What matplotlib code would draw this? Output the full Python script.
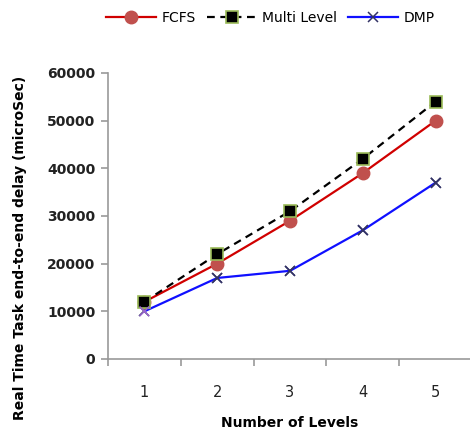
import numpy as np
import matplotlib.pyplot as plt

levels = [1, 2, 3, 4, 5]
fcfs = [12000, 20000, 29000, 39000, 50000]
multi_level = [12000, 22000, 31000, 42000, 54000]
dmp = [10000, 17000, 18500, 27000, 37000]
dmp_marker_colors = ['#9966CC', '#333366', '#333366', '#333366', '#333366']
y_ticks = [0, 10000, 20000, 30000, 40000, 50000, 60000]

plt.rcParams['font.family'] = ['DejaVu Sans']

fig = plt.figure(figsize=(4.7, 4.32), dpi=100)
ax = fig.add_axes([108 / 470, 1 - 359 / 432, 364 / 470, 286 / 432])

ax.plot(levels, fcfs, color='#D00000', lw=1.6, marker='o', ms=9,
        mfc='#C0504D', mec='#C0504D', label='FCFS', zorder=3)
ax.plot(levels, multi_level, color='black', lw=1.6, ls=(0, (3.5, 2.5)),
        marker='s', ms=9, mfc='black', mec='#9BBB59', mew=1.2,
        label='Multi Level', zorder=4)
ax.plot(levels, dmp, color='#1010FF', lw=1.6, marker='x', ms=7,
        mec='#333366', mew=1.1, label='DMP', zorder=3)
ax.scatter(levels, dmp, marker='x', s=49, c=dmp_marker_colors,
           linewidths=1.1, zorder=5)

ax.set_xlim(0.5, 5.5)
ax.set_ylim(0, 60000)
ax.set_yticks(y_ticks)
ax.set_yticklabels([str(v) for v in y_ticks], fontsize=10, fontweight='bold',
                   color='#222222')
ax.set_xticks(levels)
ax.set_xticklabels([str(v) for v in levels], fontsize=10.5, color='#222222')
ax.set_xticks(np.arange(0.5, 6.0, 1.0), minor=True)
ax.tick_params(axis='x', which='major', length=0, pad=19)
ax.tick_params(axis='x', which='minor', length=5, color='#999999', width=1.2)
ax.tick_params(axis='y', length=5, color='#999999', width=1.2, pad=4)

for side in ['top', 'right']:
    ax.spines[side].set_visible(False)
for side in ['left', 'bottom']:
    ax.spines[side].set_color('#999999')
    ax.spines[side].set_linewidth(1.2)

ax.set_ylabel('Real Time Task end-to-end delay (microSec)', fontsize=10,
              fontweight='bold')
ax.yaxis.set_label_coords(-0.2225, 0.388)
ax.set_xlabel('Number of Levels', fontsize=10, fontweight='bold')
ax.xaxis.set_label_coords(0.5, -0.198)

fig.legend(loc='center', bbox_to_anchor=(0.575, 1 - 18 / 432), ncol=3,
           frameon=False, fontsize=10, handlelength=3.6, columnspacing=0.8,
           handletextpad=0.4)

fig.savefig('out.png', dpi=100)
